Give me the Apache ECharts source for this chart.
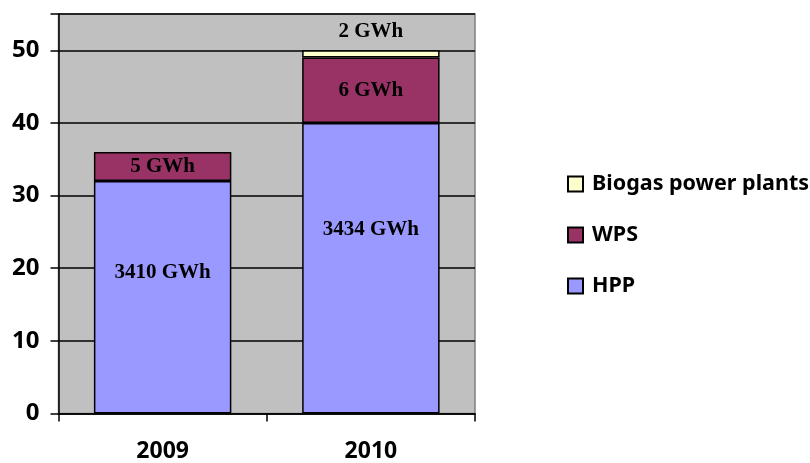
<!DOCTYPE html>
<html>
<head>
<meta charset="utf-8">
<script src="https://cdn.jsdelivr.net/npm/echarts@6/dist/echarts.min.js"></script>
<style>
  html, body { margin: 0; padding: 0; background: #ffffff; }
  #chart { width: 810px; height: 463px; }
</style>
</head>
<body>
<div id="chart"></div>
<script>
// Electricity production by source, stacked per year
const years = ['2009', '2010'];
const hppValues = [32, 40];
const wpsValues = [4, 9];
const biogasValues = [0, 1];
const hppLabels = ['3410 GWh', '3434 GWh'];
const wpsLabels = ['5 GWh', '6 GWh'];
const biogasLabels = ['', '2 GWh'];
const yTicks = [0, 10, 20, 30, 40, 50];

const labelFont = {
  fontFamily: '"Liberation Serif", "Times New Roman", serif',
  fontWeight: 'bold',
  fontSize: 21,
  color: '#000'
};
const axisFont = {
  fontFamily: '"Noto Sans", Lato, sans-serif',
  fontWeight: 'bold',
  fontSize: 24,
  color: '#000'
};
const barBorder = { borderColor: '#000', borderWidth: 1.5 };

// HPP labels sit in the upper part of each bar
const hppLabelOffsets = [[0, -25], [0, -39]];

const chart = echarts.init(document.getElementById('chart'), null, { renderer: 'canvas' });

chart.setOption({
  animation: false,
  backgroundColor: '#ffffff',
  grid: {
    left: 58.5, right: 335, top: 14, bottom: 49.5,
    show: true,
    backgroundColor: '#C0C0C0',
    borderColor: '#808080',
    borderWidth: 1.5
  },
  legend: {
    orient: 'vertical',
    left: 562,
    top: 168,
    itemWidth: 15,
    itemHeight: 15,
    itemGap: 29,
    icon: 'rect',
    data: ['Biogas power plants', 'WPS', 'HPP'],
    textStyle: Object.assign({}, axisFont, { fontSize: 21.5, padding: [0, 0, 0, 4] })
  },
  xAxis: {
    type: 'category',
    data: years,
    axisLine: { lineStyle: { color: '#000', width: 1.5 } },
    axisTick: { show: true, length: 8, lineStyle: { color: '#000', width: 1.5 } },
    axisLabel: Object.assign({ margin: 26 }, axisFont, { fontSize: 23 }),
    splitLine: { show: false }
  },
  yAxis: {
    type: 'value',
    min: 0,
    max: 55,
    interval: 10,
    axisLine: { show: true, lineStyle: { color: '#000', width: 1.5 } },
    axisTick: { show: true, length: 8, lineStyle: { color: '#000', width: 1.5 } },
    axisLabel: Object.assign({
      margin: 19,
      formatter: function (v) { return yTicks.indexOf(v) >= 0 ? String(v) : ''; }
    }, axisFont),
    splitLine: { show: true, lineStyle: { color: '#000', width: 1.5 } }
  },
  series: [
    {
      name: 'HPP',
      type: 'bar',
      stack: 'total',
      barCategoryGap: '34%',
      itemStyle: Object.assign({ color: '#9999FF' }, barBorder),
      data: hppValues.map(function (v, i) {
        return {
          value: v,
          label: { offset: hppLabelOffsets[i] }
        };
      }),
      label: Object.assign({
        show: true,
        position: 'inside',
        formatter: function (p) { return hppLabels[p.dataIndex]; }
      }, labelFont)
    },
    {
      name: 'WPS',
      type: 'bar',
      stack: 'total',
      itemStyle: Object.assign({ color: '#993366' }, barBorder),
      data: wpsValues,
      label: Object.assign({
        show: true,
        position: 'inside',
        formatter: function (p) { return wpsLabels[p.dataIndex]; }
      }, labelFont)
    },
    {
      name: 'Biogas power plants',
      type: 'bar',
      stack: 'total',
      itemStyle: Object.assign({ color: '#FFFFCC' }, barBorder),
      data: biogasValues.map(function (v) { return v === 0 ? null : v; }),
      label: Object.assign({
        show: true,
        position: 'top',
        distance: 8,
        formatter: function (p) { return biogasLabels[p.dataIndex]; }
      }, labelFont)
    }
  ]
});
</script>
</body>
</html>
